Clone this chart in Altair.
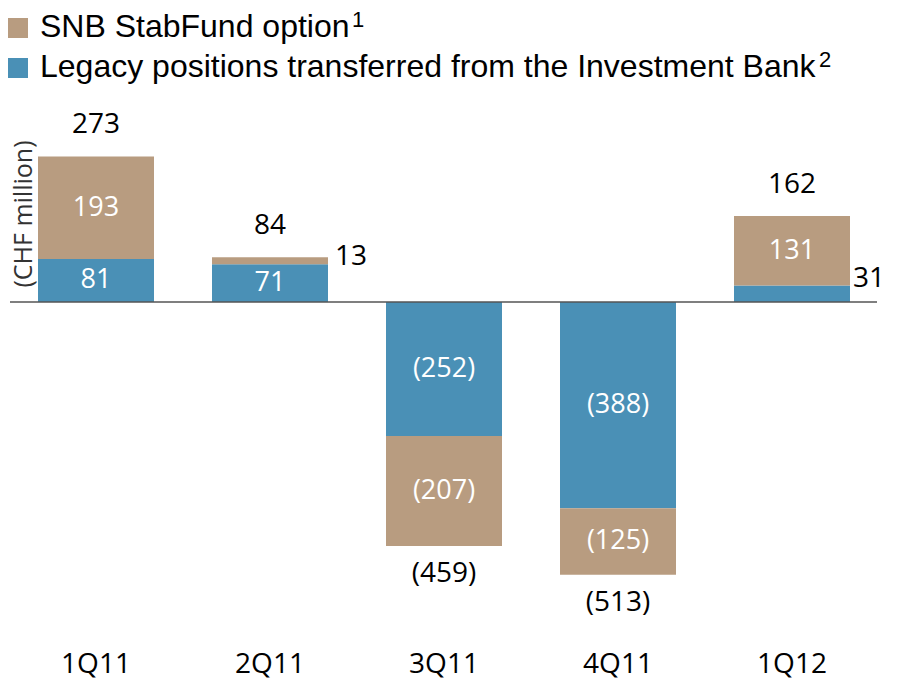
import altair as alt
import pandas as pd

# ---- data ----
quarters = ["1Q11", "2Q11", "3Q11", "4Q11", "1Q12"]
legacy = [81, 71, -252, -388, 31]
snb = [193, 13, -207, -125, 131]
totals = [273, 84, -459, -513, 162]
series_names = ["Legacy positions transferred from the Investment Bank", "SNB StabFund option"]
series_colors = ["#4a90b6", "#b89c80"]
legend_labels = ["SNB StabFund option", "Legacy positions transferred from the Investment Bank"]
legend_sups = ["1", "2"]
legend_colors = ["#b89c80", "#4a90b6"]
y_title = "(CHF million)"


def fmt(v):
    return f"({abs(v)})" if v < 0 else f"{v}"


rows = []
for q, l, s in zip(quarters, legacy, snb):
    rows.append(dict(q=q, series=series_names[0], value=l, y0=0, y1=l))
    rows.append(dict(q=q, series=series_names[1], value=s, y0=l, y1=l + s))
seg = pd.DataFrame(rows)
seg["mid"] = (seg["y0"] + seg["y1"]) / 2
seg["label"] = seg["value"].apply(fmt)
seg["absv"] = seg["value"].abs()

tot = pd.DataFrame(dict(q=quarters, total=totals,
                        end=[l + s for l, s in zip(legacy, snb)]))
tot["label"] = tot["total"].apply(fmt)

cats = pd.DataFrame(dict(q=quarters))

FONT = "Open Sans"
x_enc = alt.X("q:N", sort=quarters, axis=None,
              scale=alt.Scale(domain=quarters, range=[1, 871],
                              paddingInner=1 / 3, paddingOuter=1 / 6))
y_scale = alt.Scale(domain=[-711.2, 553.2], nice=False, zero=False)

base = alt.Chart(seg)

bars = base.mark_bar().encode(
    x=x_enc,
    y=alt.Y("y0:Q", scale=y_scale, axis=None),
    y2="y1:Q",
    color=alt.Color("series:N", scale=alt.Scale(domain=series_names, range=series_colors), legend=None),
)

inside = base.transform_filter("datum.absv >= 50").mark_text(
    font=FONT, fontSize=27, color="white", baseline="middle"
).encode(x=x_enc, y=alt.Y("mid:Q", scale=y_scale), text="label:N")

out_13 = base.transform_filter("datum.absv < 50 && datum.q == '2Q11'").mark_text(
    font=FONT, fontSize=28, color="black", baseline="middle", align="left", dx=65, dy=0
).encode(x=x_enc, y=alt.Y("y1:Q", scale=y_scale), text="label:N")

out_31 = base.transform_filter("datum.absv < 50 && datum.q == '1Q12'").mark_text(
    font=FONT, fontSize=28, color="black", baseline="middle", align="left", dx=61, dy=-7
).encode(x=x_enc, y=alt.Y("y1:Q", scale=y_scale), text="label:N")

tbase = alt.Chart(tot)
tot_pos = tbase.transform_filter("datum.total > 0").mark_text(
    font=FONT, fontSize=28, color="black", baseline="middle", dy=-31
).encode(x=x_enc, y=alt.Y("end:Q", scale=y_scale), text="label:N")
tot_neg = tbase.transform_filter("datum.total < 0").mark_text(
    font=FONT, fontSize=28, color="black", baseline="middle", dy=28
).encode(x=x_enc, y=alt.Y("end:Q", scale=y_scale), text="label:N")

zero = alt.Chart(pd.DataFrame(dict(v=[0]))).mark_rule(color="#555555", strokeWidth=1.5).encode(
    y=alt.Y("v:Q", scale=y_scale), x=alt.value(2), x2=alt.value(869)
)

cat_labels = alt.Chart(cats).mark_text(
    font=FONT, fontSize=28, color="black", baseline="middle"
).encode(x=x_enc, y=alt.value(657), text="q:N")

ytitle = alt.Chart(pd.DataFrame(dict(t=[y_title]))).mark_text(
    font=FONT, fontSize=25, color="#333333", angle=270, baseline="middle"
).encode(x=alt.value(16), y=alt.value(206), text="t:N")

legend_layers = []
leg_y = [20, 60]
sup_x = [344, 811]
for lab, sup, col, yy, sx in zip(legend_labels, legend_sups, legend_colors, leg_y, sup_x):
    d = pd.DataFrame(dict(t=[lab], s=[sup]))
    legend_layers.append(alt.Chart(d).mark_square(size=400, color=col, opacity=1).encode(
        x=alt.value(10), y=alt.value(yy)))
    legend_layers.append(alt.Chart(d).mark_text(
        font="Liberation Sans", fontSize=32, color="black", align="left", baseline="alphabetic"
    ).encode(x=alt.value(32), y=alt.value(yy + 9), text="t:N"))
    legend_layers.append(alt.Chart(d).mark_text(
        font="Liberation Sans", fontSize=22, color="black", align="left", baseline="alphabetic"
    ).encode(x=alt.value(sx), y=alt.value(yy - 1), text="s:N"))

chart = alt.layer(
    bars, zero, inside, out_13, out_31, tot_pos, tot_neg, cat_labels, ytitle, *legend_layers
).properties(
    width=882, height=672, padding=0, autosize=alt.AutoSizeParams(type="none")
).configure_view(stroke=None)

chart.save("out.html", embed_options={"renderer": "svg", "actions": False})
